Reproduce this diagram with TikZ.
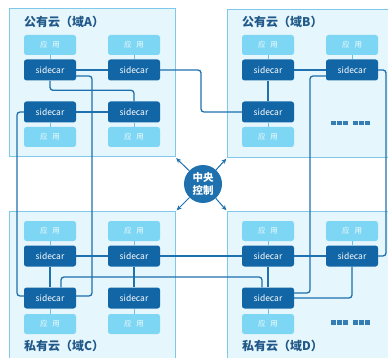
\documentclass[tikz,border=0pt]{standalone}
\usepackage{fontspec}
\setmainfont{Noto Sans CJK SC}
\usetikzlibrary{arrows.meta, positioning}
\definecolor{cloudfill}{RGB}{230,246,253}
\definecolor{cloudline}{RGB}{128,200,234}
\definecolor{appfill}{RGB}{125,214,244}
\definecolor{carfill}{RGB}{18,102,166}
\definecolor{linkblue}{RGB}{30,112,174}
\definecolor{titleblue}{RGB}{32,88,136}

\begin{document}
\begin{tikzpicture}[
  x=1pt, y=-1pt,
  cloudbox/.style={draw=cloudline, fill=cloudfill, line width=1pt, inner sep=0pt},
  cloudtitle/.style={anchor=west, text=titleblue, font=\fontsize{12}{14}\selectfont\bfseries, inner sep=0pt},
  appbox/.style={fill=appfill, rounded corners=2.5pt, minimum width=52pt, minimum height=20pt, inner sep=0pt, text=white!92!appfill, font=\fontsize{7.5}{9}\selectfont},
  carbox/.style={fill=carfill, rounded corners=2.5pt, minimum width=52pt, minimum height=21pt, inner sep=0pt, text=white, font=\fontsize{8.5}{10}\selectfont},
  link/.style={draw=linkblue, line width=1.3pt, rounded corners=3pt},
  tie/.style={draw=appfill!80!carfill, line width=0.8pt},
  hub/.style={circle, fill=linkblue, minimum size=38pt, inner sep=0pt, text=white, align=center, font=\fontsize{10.5}{12.5}\selectfont\bfseries},
  spoke/.style={draw=linkblue, line width=1pt, -{Stealth[length=5pt, width=4.5pt]}, shorten >=1pt}
]
\useasboundingbox (0,0) rectangle (388,358);

% domains
\node[cloudbox, minimum width=166pt, minimum height=148pt] (domA) at (92,83) {};
\node[cloudbox, minimum width=170pt, minimum height=148pt, anchor=north west] (domB) at (227,9) {};
\node[cloudbox, minimum width=166pt, minimum height=154pt, anchor=north west] (domC) at (9,211) {};
\node[cloudbox, minimum width=170pt, minimum height=154pt, anchor=north west] (domD) at (227,211) {};

\node[cloudtitle] (titleA) at (24,22) {公有云（域A）};
\node[cloudtitle] (titleB) at (242,22) {公有云（域B）};
\node[cloudtitle] (titleC) at (24,346) {私有云（域C）};
\node[cloudtitle] (titleD) at (242,346) {私有云（域D）};

% domain A
\node[appbox] (appA1) at (50,45) {应\hspace{5pt}用};
\node[appbox] (appA2) at (134,45) {应\hspace{5pt}用};
\node[carbox] (scA1) at (50,70) {sidecar};
\node[carbox] (scA2) at (134,70) {sidecar};
\node[carbox] (scA3) at (50,112) {sidecar};
\node[carbox] (scA4) at (134,112) {sidecar};
\node[appbox] (appA3) at (50,137) {应\hspace{5pt}用};
\node[appbox] (appA4) at (134,137) {应\hspace{5pt}用};

% domain B
\node[appbox] (appB1) at (268,45) {应\hspace{5pt}用};
\node[appbox] (appB2) at (352,45) {应\hspace{5pt}用};
\node[carbox] (scB1) at (268,70) {sidecar};
\node[carbox] (scB2) at (352,70) {sidecar};
\node[carbox] (scB3) at (268,112) {sidecar};
\node[appbox] (appB3) at (268,137) {应\hspace{5pt}用};

% domain C
\node[appbox] (appC1) at (50,231) {应\hspace{5pt}用};
\node[appbox] (appC2) at (134,231) {应\hspace{5pt}用};
\node[carbox] (scC1) at (50,256) {sidecar};
\node[carbox] (scC2) at (134,256) {sidecar};
\node[carbox] (scC3) at (50,298) {sidecar};
\node[carbox] (scC4) at (134,298) {sidecar};
\node[appbox] (appC3) at (50,324) {应\hspace{5pt}用};
\node[appbox] (appC4) at (134,324) {应\hspace{5pt}用};

% domain D
\node[appbox] (appD1) at (268,231) {应\hspace{5pt}用};
\node[appbox] (appD2) at (352,231) {应\hspace{5pt}用};
\node[carbox] (scD1) at (268,256) {sidecar};
\node[carbox] (scD2) at (352,256) {sidecar};
\node[carbox] (scD3) at (268,298) {sidecar};
\node[appbox] (appD3) at (268,324) {应\hspace{5pt}用};

% more instances
\foreach \x in {331,337,343,353,359,365} {
  \fill[carfill!85!white] (\x,121) rectangle ++(4.5,4.5);
  \fill[carfill!85!white] (\x,320) rectangle ++(4.5,4.5);
}

% app <-> sidecar
\foreach \a/\s in {appA1/scA1, appA2/scA2, appA3/scA3, appA4/scA4,
                   appB1/scB1, appB2/scB2, appB3/scB3,
                   appC1/scC1, appC2/scC2, appC3/scC3, appC4/scC4,
                   appD1/scD1, appD2/scD2, appD3/scD3}
  \draw[tie] (\a) -- (\s);

% sidecar links
\draw[link] (scA1.east) -- (scA2.west);
\draw[link] (scA3.east) -- (scA4.west);
\draw[link] (scA1.south) |- ([yshift=11pt]scA4.north) -- (scA4.north);
\draw[link] ([yshift=-6pt]scA1.east) -| (92,200) |- ([yshift=2pt]scC3.east);
\draw[link] (scA3.west) -| (17,200) |- ([yshift=2pt]scC3.west);
\draw[link] (scA2.east) -| (201,90) |- (scB3.west);

\draw[link] (scB1.east) -- (scB2.west);
\draw[link] (scB1.south) -- (scB3.north);
\draw[link] ([yshift=-6pt]scB2.west) -| (310,200) |- ([yshift=5pt]scD3.east);
\draw[link] (scB2.east) -| (386,160) |- (scD2.east);

\draw[link] (scC1.east) -- (scC2.west);
\draw[link] (scC1.south) -- (scC3.north);
\draw[link] (scC2.south) -- (scC4.north);
\draw[link] (scC2.east) -- (scD1.west);
\draw[link] ([xshift=11pt]scC3.north) |- (150,277) -| ([xshift=-6pt]scD3.north);

\draw[link] (scD1.east) -- (scD2.west);
\draw[link] (scD1.south) -- (scD3.north);
\draw[link] (scD2.south) |- (scD3.east);

% central control
\node[hub] (hub) at (203,184) {中央\\控制};
\draw[spoke] (hub) -- (domA.south east);
\draw[spoke] (hub) -- (domB.south west);
\draw[spoke] (hub) -- (domC.north east);
\draw[spoke] (hub) -- (domD.north west);
\end{tikzpicture}
\end{document}
